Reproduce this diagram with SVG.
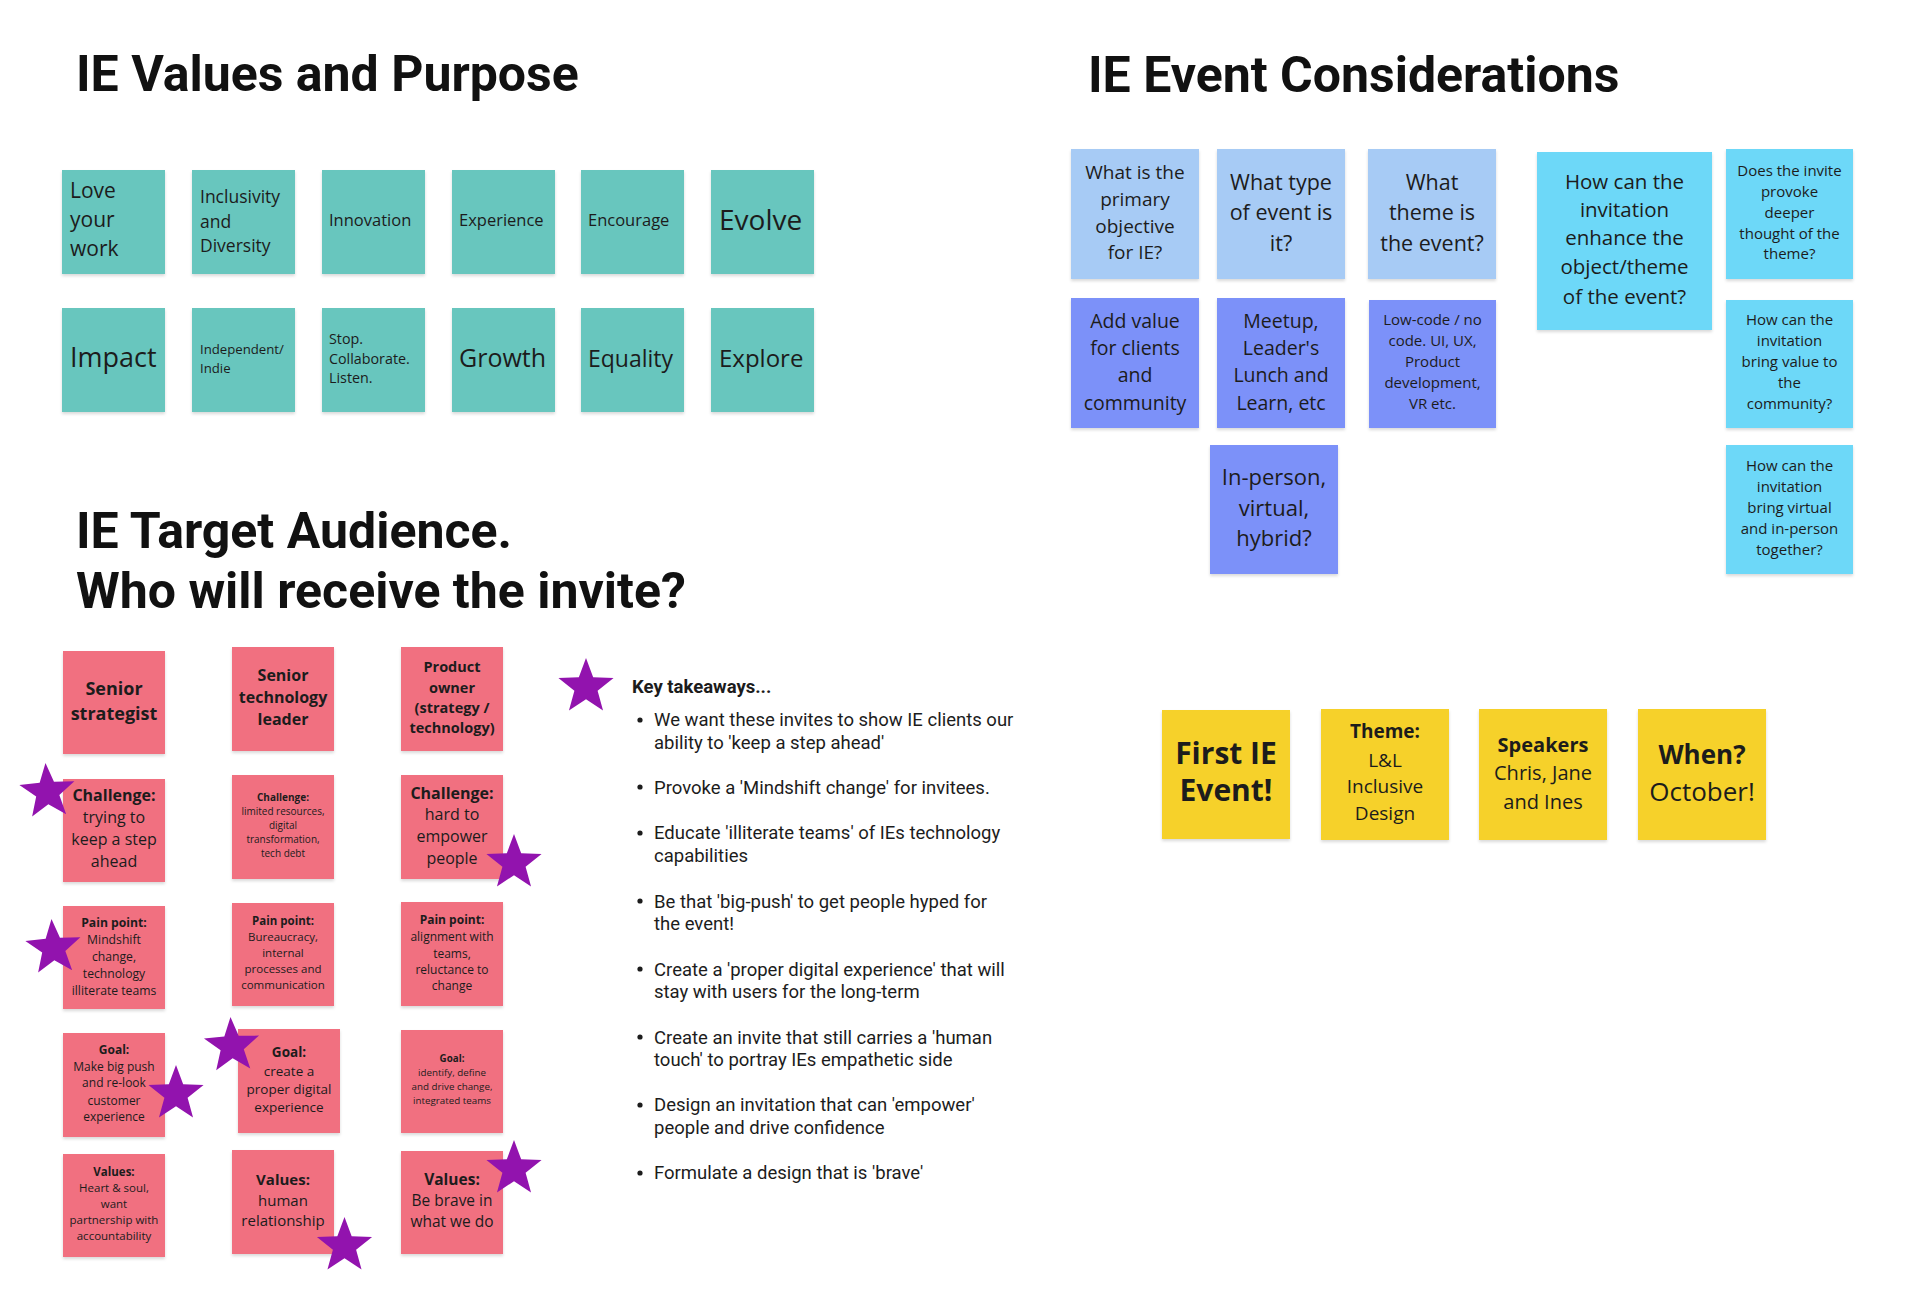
<svg xmlns="http://www.w3.org/2000/svg" xmlns:xlink="http://www.w3.org/1999/xlink" width="1920" height="1298" viewBox="0 0 1920 1298">
<style>
.title{font-family:Roboto,"Liberation Sans",sans-serif;font-weight:700;font-size:50px;fill:#111}
.n{font-family:"Open Sans","Liberation Sans",sans-serif;fill:#1c1c1c}
.c{text-anchor:middle}
.b{font-weight:700}
.teal{fill:#67C6BE}
.lb{fill:#A7CBF5}
.cy{fill:#6DD8F8}
.pw{fill:#7B91F9}
.pk{fill:#F16F80}
.ye{fill:#F6D12B}
.note{filter:url(#sh)}
.star{fill:#9213AE}
.kt{font-family:Roboto,"Liberation Sans",sans-serif;font-size:18.5px;fill:#1c1c1c}
</style>
<defs>
<filter id="sh" x="-10%" y="-10%" width="120%" height="125%">
<feDropShadow dx="0" dy="2" stdDeviation="1.5" flood-color="#000" flood-opacity="0.15"/>
</filter>
<path id="star" d="M0,-29 L7.17,-9.87 L27.58,-8.96 L11.6,3.77 L17.05,23.46 L0,12.2 L-17.05,23.46 L-11.6,3.77 L-27.58,-8.96 L-7.17,-9.87 Z"/>
</defs>
<rect width="1920" height="1298" fill="#fff"/>

<!-- Titles -->
<text class="title" x="76" y="91">IE Values and Purpose</text>
<text class="title" x="1088" y="92">IE Event Considerations</text>
<text class="title" x="76" y="548">IE Target Audience.</text>
<text class="title" x="76" y="608">Who will receive the invite?</text>

<!-- Values and Purpose -->
<g id="v-love"><rect class="teal note" x="62" y="170" width="103" height="104"/><text class="n" font-size="21"><tspan x="70" y="198">Love</tspan><tspan x="70" y="227">your</tspan><tspan x="70" y="256">work</tspan></text></g>
<g id="v-inclusivity"><rect class="teal note" x="192" y="170" width="103" height="104"/><text class="n" font-size="17.5"><tspan x="200" y="203">Inclusivity</tspan><tspan x="200" y="227.5">and</tspan><tspan x="200" y="252">Diversity</tspan></text></g>
<g id="v-innovation"><rect class="teal note" x="322" y="170" width="103" height="104"/><text class="n" font-size="16.5" x="329" y="226">Innovation</text></g>
<g id="v-experience"><rect class="teal note" x="452" y="170" width="103" height="104"/><text class="n" font-size="16.5" x="459" y="226">Experience</text></g>
<g id="v-encourage"><rect class="teal note" x="581" y="170" width="103" height="104"/><text class="n" font-size="16.5" x="588" y="226">Encourage</text></g>
<g id="v-evolve"><rect class="teal note" x="711" y="170" width="103" height="104"/><text class="n" font-size="28" x="719" y="230">Evolve</text></g>
<g id="v-impact"><rect class="teal note" x="62" y="308" width="103" height="104"/><text class="n" font-size="27" x="70" y="367">Impact</text></g>
<g id="v-independent"><rect class="teal note" x="192" y="308" width="103" height="104"/><text class="n" font-size="13.2"><tspan x="200" y="354">Independent/</tspan><tspan x="200" y="373">Indie</tspan></text></g>
<g id="v-stop"><rect class="teal note" x="322" y="308" width="103" height="104"/><text class="n" font-size="14.3"><tspan x="329" y="344">Stop.</tspan><tspan x="329" y="364">Collaborate.</tspan><tspan x="329" y="383">Listen.</tspan></text></g>
<g id="v-growth"><rect class="teal note" x="452" y="308" width="103" height="104"/><text class="n" font-size="25" x="459" y="367">Growth</text></g>
<g id="v-equality"><rect class="teal note" x="581" y="308" width="103" height="104"/><text class="n" font-size="23" x="588" y="367">Equality</text></g>
<g id="v-explore"><rect class="teal note" x="711" y="308" width="103" height="104"/><text class="n" font-size="24" x="719" y="367">Explore</text></g>

<!-- Event Considerations -->
<g id="e-objective"><rect class="lb note" x="1071" y="149" width="128" height="130"/><text class="n c" font-size="19"><tspan x="1135" y="179">What is the</tspan><tspan x="1135" y="206">primary</tspan><tspan x="1135" y="233">objective</tspan><tspan x="1135" y="259">for IE?</tspan></text></g>
<g id="e-type"><rect class="lb note" x="1217" y="149" width="128" height="130"/><text class="n c" font-size="21.5"><tspan x="1281" y="189.5">What type</tspan><tspan x="1281" y="219.5">of event is</tspan><tspan x="1281" y="250.5">it?</tspan></text></g>
<g id="e-theme"><rect class="lb note" x="1368" y="149" width="128" height="130"/><text class="n c" font-size="21.5"><tspan x="1432" y="189.5">What</tspan><tspan x="1432" y="219.5">theme is</tspan><tspan x="1432" y="250.5">the event?</tspan></text></g>
<g id="e-enhance"><rect class="cy note" x="1537" y="152" width="175" height="178"/><text class="n c" font-size="20.5"><tspan x="1624.5" y="189">How can the</tspan><tspan x="1624.5" y="217">invitation</tspan><tspan x="1624.5" y="245">enhance the</tspan><tspan x="1624.5" y="274">object/theme</tspan><tspan x="1624.5" y="304">of the event?</tspan></text></g>
<g id="e-provoke"><rect class="cy note" x="1726" y="149" width="127" height="130"/><text class="n c" font-size="15"><tspan x="1789.5" y="176">Does the invite</tspan><tspan x="1789.5" y="197">provoke</tspan><tspan x="1789.5" y="218">deeper</tspan><tspan x="1789.5" y="239">thought of the</tspan><tspan x="1789.5" y="259">theme?</tspan></text></g>
<g id="e-value"><rect class="pw note" x="1071" y="298" width="128" height="130"/><text class="n c" font-size="19.5"><tspan x="1135" y="327.5">Add value</tspan><tspan x="1135" y="355">for clients</tspan><tspan x="1135" y="382">and</tspan><tspan x="1135" y="409.5">community</tspan></text></g>
<g id="e-meetup"><rect class="pw note" x="1217" y="298" width="128" height="130"/><text class="n c" font-size="19.5"><tspan x="1281" y="327.5">Meetup,</tspan><tspan x="1281" y="355">Leader's</tspan><tspan x="1281" y="382">Lunch and</tspan><tspan x="1281" y="409.5">Learn, etc</tspan></text></g>
<g id="e-lowcode"><rect class="pw note" x="1369" y="300" width="127" height="128"/><text class="n c" font-size="15"><tspan x="1432.5" y="325">Low-code / no</tspan><tspan x="1432.5" y="346">code. UI, UX,</tspan><tspan x="1432.5" y="367">Product</tspan><tspan x="1432.5" y="388">development,</tspan><tspan x="1432.5" y="409">VR etc.</tspan></text></g>
<g id="e-community"><rect class="cy note" x="1726" y="300" width="127" height="128"/><text class="n c" font-size="15"><tspan x="1789.5" y="325">How can the</tspan><tspan x="1789.5" y="346">invitation</tspan><tspan x="1789.5" y="367">bring value to</tspan><tspan x="1789.5" y="388">the</tspan><tspan x="1789.5" y="409">community?</tspan></text></g>
<g id="e-inperson"><rect class="pw note" x="1210" y="445" width="128" height="129"/><text class="n c" font-size="22"><tspan x="1274" y="485">In-person,</tspan><tspan x="1274" y="516">virtual,</tspan><tspan x="1274" y="546">hybrid?</tspan></text></g>
<g id="e-together"><rect class="cy note" x="1726" y="445" width="127" height="129"/><text class="n c" font-size="15"><tspan x="1789.5" y="471">How can the</tspan><tspan x="1789.5" y="492">invitation</tspan><tspan x="1789.5" y="513">bring virtual</tspan><tspan x="1789.5" y="534">and in-person</tspan><tspan x="1789.5" y="555">together?</tspan></text></g>

<!-- Yellow notes -->
<g id="y-first"><rect class="ye note" x="1162" y="710" width="128" height="129"/><text class="n c b" font-size="30"><tspan x="1226" y="764">First IE</tspan><tspan x="1226" y="801">Event!</tspan></text></g>
<g id="y-theme"><rect class="ye note" x="1321" y="709" width="128" height="131"/><text class="n c" font-size="19"><tspan class="b" x="1385" y="738">Theme:</tspan><tspan x="1385" y="767">L&amp;L</tspan><tspan x="1385" y="793">Inclusive</tspan><tspan x="1385" y="820">Design</tspan></text></g>
<g id="y-speakers"><rect class="ye note" x="1479" y="709" width="128" height="131"/><text class="n c" font-size="20"><tspan class="b" x="1543" y="752">Speakers</tspan><tspan x="1543" y="780">Chris, Jane</tspan><tspan x="1543" y="809">and Ines</tspan></text></g>
<g id="y-when"><rect class="ye note" x="1638" y="709" width="128" height="131"/><text class="n c" font-size="26"><tspan class="b" x="1702" y="764">When?</tspan><tspan x="1702" y="801">October!</tspan></text></g>

<!-- Target audience -->
<g id="a-strategist"><rect class="pk note" x="63" y="651" width="102" height="103"/><text class="n c b" font-size="18"><tspan x="114" y="695">Senior</tspan><tspan x="114" y="720">strategist</tspan></text></g>
<g id="a-techleader"><rect class="pk note" x="232" y="647" width="102" height="104"/><text class="n c b" font-size="16"><tspan x="283" y="681">Senior</tspan><tspan x="283" y="703">technology</tspan><tspan x="283" y="725">leader</tspan></text></g>
<g id="a-productowner"><rect class="pk note" x="401" y="647" width="102" height="104"/><text class="n c b" font-size="14.5"><tspan x="452" y="672">Product</tspan><tspan x="452" y="693">owner</tspan><tspan x="452" y="713">(strategy /</tspan><tspan x="452" y="733">technology)</tspan></text></g>
<g id="a-ch1"><rect class="pk note" x="63" y="779" width="102" height="103"/><text class="n c" font-size="16"><tspan class="b" x="114" y="801">Challenge:</tspan><tspan x="114" y="823">trying to</tspan><tspan x="114" y="845">keep a step</tspan><tspan x="114" y="867">ahead</tspan></text></g>
<g id="a-ch2"><rect class="pk note" x="232" y="775" width="102" height="104"/><text class="n c" font-size="10"><tspan class="b" x="283" y="800.5">Challenge:</tspan><tspan x="283" y="815">limited resources,</tspan><tspan x="283" y="829">digital</tspan><tspan x="283" y="842.5">transformation,</tspan><tspan x="283" y="856.5">tech debt</tspan></text></g>
<g id="a-ch3"><rect class="pk note" x="401" y="775" width="102" height="104"/><text class="n c" font-size="16"><tspan class="b" x="452" y="798.5">Challenge:</tspan><tspan x="452" y="820">hard to</tspan><tspan x="452" y="842">empower</tspan><tspan x="452" y="864">people</tspan></text></g>
<g id="a-pp1"><rect class="pk note" x="63" y="906" width="102" height="103"/><text class="n c" font-size="12.2"><tspan class="b" x="114" y="927">Pain point:</tspan><tspan x="114" y="943.5">Mindshift</tspan><tspan x="114" y="961">change,</tspan><tspan x="114" y="977.5">technology</tspan><tspan x="114" y="994.5">illiterate teams</tspan></text></g>
<g id="a-pp2"><rect class="pk note" x="232" y="903" width="102" height="103"/><text class="n c" font-size="11.5"><tspan class="b" x="283" y="925">Pain point:</tspan><tspan x="283" y="941">Bureaucracy,</tspan><tspan x="283" y="957">internal</tspan><tspan x="283" y="973">processes and</tspan><tspan x="283" y="988.5">communication</tspan></text></g>
<g id="a-pp3"><rect class="pk note" x="401" y="902" width="102" height="104"/><text class="n c" font-size="12"><tspan class="b" x="452" y="924">Pain point:</tspan><tspan x="452" y="941">alignment with</tspan><tspan x="452" y="957.5">teams,</tspan><tspan x="452" y="973.5">reluctance to</tspan><tspan x="452" y="990">change</tspan></text></g>
<g id="a-goal1"><rect class="pk note" x="63" y="1033" width="102" height="104"/><text class="n c" font-size="12"><tspan class="b" x="114" y="1054">Goal:</tspan><tspan x="114" y="1071">Make big push</tspan><tspan x="114" y="1087">and re-look</tspan><tspan x="114" y="1105">customer</tspan><tspan x="114" y="1121">experience</tspan></text></g>
<g id="a-goal2"><rect class="pk note" x="238" y="1029" width="102" height="104"/><text class="n c" font-size="13.5"><tspan class="b" x="289" y="1056.5">Goal:</tspan><tspan x="289" y="1075.5">create a</tspan><tspan x="289" y="1094">proper digital</tspan><tspan x="289" y="1112">experience</tspan></text></g>
<g id="a-goal3"><rect class="pk note" x="401" y="1030" width="102" height="103"/><text class="n c" font-size="9.8"><tspan class="b" x="452" y="1062">Goal:</tspan><tspan x="452" y="1075.5">identify, define</tspan><tspan x="452" y="1089.5">and drive change,</tspan><tspan x="452" y="1103.5">integrated teams</tspan></text></g>
<g id="a-val1"><rect class="pk note" x="63" y="1154" width="102" height="103"/><text class="n c" font-size="11.5"><tspan class="b" x="114" y="1176">Values:</tspan><tspan x="114" y="1192">Heart &amp; soul,</tspan><tspan x="114" y="1208">want</tspan><tspan x="114" y="1224">partnership with</tspan><tspan x="114" y="1240">accountability</tspan></text></g>
<g id="a-val2"><rect class="pk note" x="232" y="1150" width="102" height="104"/><text class="n c" font-size="15"><tspan class="b" x="283" y="1185">Values:</tspan><tspan x="283" y="1206">human</tspan><tspan x="283" y="1226">relationship</tspan></text></g>
<g id="a-val3"><rect class="pk note" x="401" y="1151" width="102" height="103"/><text class="n c" font-size="15.5"><tspan class="b" x="452" y="1184.5">Values:</tspan><tspan x="452" y="1205.5">Be brave in</tspan><tspan x="452" y="1227">what we do</tspan></text></g>

<!-- Stars -->
<g id="stars">
<use xlink:href="#star" class="star" transform="translate(47.5,792) rotate(-4)"/>
<use xlink:href="#star" class="star" transform="translate(514,863)"/>
<use xlink:href="#star" class="star" transform="translate(53.5,948) rotate(-4)"/>
<use xlink:href="#star" class="star" transform="translate(176,1094)"/>
<use xlink:href="#star" class="star" transform="translate(232,1046) rotate(-3)"/>
<use xlink:href="#star" class="star" transform="translate(514,1169)"/>
<use xlink:href="#star" class="star" transform="translate(344.5,1246)"/>
<use xlink:href="#star" class="star" transform="translate(586,687)"/>
</g>

<!-- Key takeaways -->
<g id="takeaways">
<text class="kt" font-weight="700" x="632" y="693">Key takeaways...</text>
<g fill="#1c1c1c">
<circle cx="640" cy="720" r="2.6"/>
<circle cx="640" cy="787" r="2.6"/>
<circle cx="640" cy="833" r="2.6"/>
<circle cx="640" cy="901" r="2.6"/>
<circle cx="640" cy="969" r="2.6"/>
<circle cx="640" cy="1037" r="2.6"/>
<circle cx="640" cy="1105" r="2.6"/>
<circle cx="640" cy="1173" r="2.6"/>
</g>
<text class="kt"><tspan x="654" y="726">We want these invites to show IE clients our</tspan><tspan x="654" y="749">ability to 'keep a step ahead'</tspan></text>
<text class="kt" x="654" y="793.5">Provoke a 'Mindshift change' for invitees.</text>
<text class="kt"><tspan x="654" y="839">Educate 'illiterate teams' of IEs technology</tspan><tspan x="654" y="861.5">capabilities</tspan></text>
<text class="kt"><tspan x="654" y="907.5">Be that 'big-push' to get people hyped for</tspan><tspan x="654" y="929.5">the event!</tspan></text>
<text class="kt"><tspan x="654" y="975.5">Create a 'proper digital experience' that will</tspan><tspan x="654" y="998">stay with users for the long-term</tspan></text>
<text class="kt"><tspan x="654" y="1043.5">Create an invite that still carries a 'human</tspan><tspan x="654" y="1066">touch' to portray IEs empathetic side</tspan></text>
<text class="kt"><tspan x="654" y="1111">Design an invitation that can 'empower'</tspan><tspan x="654" y="1134">people and drive confidence</tspan></text>
<text class="kt" x="654" y="1179">Formulate a design that is 'brave'</text>
</g>
</svg>
